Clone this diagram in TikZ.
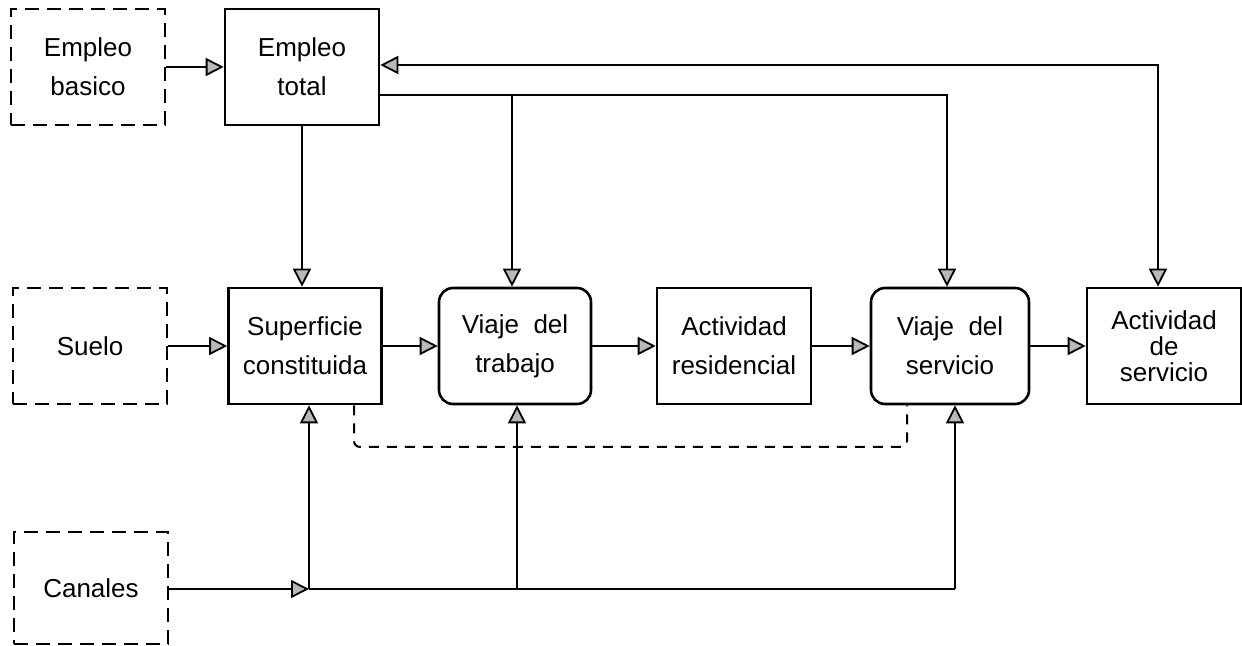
\documentclass[tikz,border=0pt]{standalone}
\usepackage{fontspec}
\setmainfont{Liberation Sans}
\usetikzlibrary{arrows.meta,calc}
\begin{document}
\begin{tikzpicture}[x=0.5pt,y=-0.5pt,
  box/.style={draw, line width=1.3pt, minimum width=77pt, minimum height=58pt,
    align=center, inner sep=2pt, font=\fontsize{13}{19.5}\selectfont},
  dbox/.style={box, dash pattern=on 7pt off 4pt},
  rbox/.style={box, rounded corners=7pt},
  line/.style={line width=1pt},
  arr/.style={line, -{Triangle[length=9pt,width=9pt,fill=gray!55,line width=0.9pt]}},
  darr/.style={line, {Triangle[length=9pt,width=9pt,fill=gray!55,line width=0.9pt]}-{Triangle[length=9pt,width=9pt,fill=gray!55,line width=0.9pt]}},
  dline/.style={line width=1pt, dash pattern=on 5pt off 4pt, rounded corners=3pt}]
\useasboundingbox (0,0) rectangle (1242,646);
% nodes
\node[dbox] (basico) at (88,67) {Empleo\\basico};
\node[box] (total) at (302,67) {Empleo\\total};
\node[dbox] (suelo) at (90,346) {Suelo};
\node[box, minimum width=76.5pt] (sup) at (305,346) {Superficie\\constituida};
\node[rbox, minimum width=76pt] (vt) at (515,346) {Viaje\ \ del\\trabajo};
\node[box] (ar) at (734,346) {Actividad\\residencial};
\node[rbox, minimum width=79pt] (vs) at (950,346) {Viaje\ \ del\\servicio};
\node[box, font=\fontsize{13}{13}\selectfont] (as) at (1164,346) {Actividad\\de\\servicio};
\node[dbox, minimum height=56pt] (canales) at (91,588) {Canales};
% helper coordinates
\coordinate (k1) at (1158,65);
\coordinate (k2) at (947,95);
\coordinate (k3) at (512,95);
\coordinate (k4) at (309,589);
\coordinate (k5) at (517,589);
\coordinate (k6) at (955,589);
\coordinate (d1) at (354,447);
\coordinate (d2) at (907,447);
% top connectors
\draw[arr] (basico.east) -- (total.west);
\draw[darr] (total.east |- k1) -- (k1) -- (k1 |- as.north);
\draw[arr] (total.east |- k2) -- (k2) -- (k2 |- vs.north);
\draw[arr] (k3) -- (k3 |- vt.north);
\draw[arr] (total.south) -- (total.south |- sup.north);
% middle row
\draw[arr] (suelo.east) -- (sup.west);
\draw[arr] (sup.east) -- (vt.west);
\draw[arr] (vt.east) -- (ar.west);
\draw[arr] (ar.east) -- (vs.west);
\draw[arr] (vs.east) -- (as.west);
% bottom
\draw[arr] (canales.east |- k4) -- (k4);
\draw[line] (k4) -- (k6);
\draw[arr] (k4) -- (k4 |- sup.south);
\draw[arr] (k5) -- (k5 |- vt.south);
\draw[arr] (k6) -- (k6 |- vs.south);
% dashed feedback
\draw[dline] (d1 |- sup.south) -- (d1) -- (d2) -- (d2 |- vs.south);
\end{tikzpicture}
\end{document}
